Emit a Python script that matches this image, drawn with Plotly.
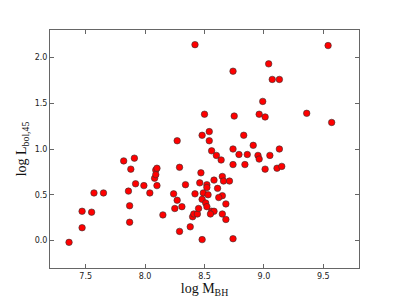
import plotly.graph_objects as go

log_mbh = [7.36, 7.47, 7.47, 7.55, 7.57, 7.65, 7.82, 7.91, 7.88, 7.92,
           7.86, 7.87, 7.87, 7.99, 8.04, 8.08, 8.09, 8.09, 8.10, 8.10,
           8.15, 8.24, 8.25, 8.27, 8.29, 8.29, 8.31, 8.34, 8.38, 8.40,
           8.41, 8.42, 8.44, 8.45, 8.46, 8.47, 8.56, 8.60, 8.64, 8.74,
           8.79, 8.86, 8.74, 8.84, 8.52, 8.52, 8.58, 8.65, 8.66, 8.71,
           8.49, 8.53, 8.61, 8.65, 8.62, 8.48, 8.51, 8.52, 8.68, 8.56,
           8.58, 8.55, 8.65, 8.68, 8.48, 8.74, 8.95, 8.96, 9.05, 9.13,
           9.01, 9.11, 9.15, 9.54, 9.04, 8.74, 9.07, 9.13, 8.99, 8.50,
           8.75, 8.96, 9.01, 9.36, 9.57, 8.48, 8.54, 8.54, 8.83, 8.91,
           8.27, 8.42]
log_lbol = [-0.02, 0.14, 0.32, 0.31, 0.52, 0.52, 0.87, 0.90, 0.78, 0.62,
            0.54, 0.38, 0.20, 0.60, 0.52, 0.68, 0.77, 0.72, 0.79, 0.60,
            0.28, 0.51, 0.35, 0.44, 0.80, 0.10, 0.37, 0.61, 0.15, 0.26,
            0.29, 0.51, 0.29, 0.35, 0.63, 0.74, 0.98, 0.93, 0.88, 1.00,
            0.94, 0.94, 0.83, 0.83, 0.61, 0.58, 0.66, 0.70, 0.65, 0.65,
            0.52, 0.50, 0.57, 0.49, 0.47, 0.45, 0.41, 0.37, 0.40, 0.32,
            0.32, 0.29, 0.29, 0.23, 0.01, 0.02, 0.93, 0.89, 0.93, 1.00,
            0.78, 0.79, 0.81, 2.13, 1.93, 1.85, 1.76, 1.76, 1.52, 1.38,
            1.36, 1.38, 1.35, 1.39, 1.29, 1.15, 1.19, 1.09, 1.15, 1.04,
            1.09, 2.14]

x_ticks = [7.5, 8.0, 8.5, 9.0, 9.5]
y_ticks = [0.0, 0.5, 1.0, 1.5, 2.0]

fig = go.Figure()
fig.add_trace(go.Scatter(
    x=log_mbh, y=log_lbol, mode="markers",
    marker=dict(size=6.5, color="#ff0000", line=dict(color="#333333", width=0.6)),
    showlegend=False,
))

axis_common = dict(
    showgrid=False, zeroline=False, showline=True, linecolor="#666666", linewidth=1,
    mirror="ticks", ticks="inside", ticklen=4, tickwidth=1, tickcolor="#666666",
    tickfont=dict(family="DejaVu Sans", size=8, color="#222222"),
    automargin=False,
)

# page body has an 8px default margin; figure sized to fit inside the window
fig.update_layout(
    width=391, height=291,
    margin=dict(l=41.5, r=40, t=21.7, b=30.7, autoexpand=False),
    paper_bgcolor="white", plot_bgcolor="white",
    xaxis=dict(range=[7.2, 9.8], tickvals=x_ticks, ticktext=[f"{v:.1f}" for v in x_ticks],
               title=dict(text="log M<sub>BH</sub>", standoff=0,
                          font=dict(family="Liberation Serif", size=14, color="#111111")),
               **axis_common),
    yaxis=dict(range=[-0.3, 2.3], tickvals=y_ticks, ticktext=[f"{v:.1f}" for v in y_ticks],
               title=dict(text="log L<sub>bol,45</sub>", standoff=4,
                          font=dict(family="Liberation Serif", size=14, color="#111111")),
               **axis_common),
)

fig.write_html("out.html")
